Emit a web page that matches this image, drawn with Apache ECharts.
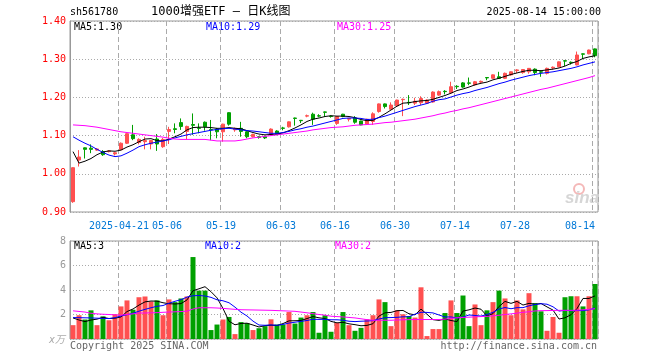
<!DOCTYPE html>
<html><head><meta charset="utf-8">
<script src="https://cdn.jsdelivr.net/npm/echarts@6/dist/echarts.min.js"></script>
<style>html,body{margin:0;padding:0;background:#fff}#c{width:660px;height:360px}</style>
</head><body><div id="c"></div>
<script>
const dates = ['2025-04-09','2025-04-10','2025-04-11','2025-04-14','2025-04-15','2025-04-16','2025-04-17','2025-04-18','2025-04-21','2025-04-22','2025-04-23','2025-04-24','2025-04-25','2025-04-28','2025-04-29','2025-04-30',
'2025-05-06','2025-05-07','2025-05-08','2025-05-09','2025-05-12','2025-05-13','2025-05-14','2025-05-15','2025-05-16','2025-05-19','2025-05-20','2025-05-21','2025-05-22','2025-05-23','2025-05-26','2025-05-27','2025-05-28','2025-05-29','2025-05-30',
'2025-06-03','2025-06-04','2025-06-05','2025-06-06','2025-06-09','2025-06-10','2025-06-11','2025-06-12','2025-06-13','2025-06-16','2025-06-17','2025-06-18','2025-06-19','2025-06-20','2025-06-23','2025-06-24','2025-06-25','2025-06-26','2025-06-27','2025-06-30',
'2025-07-01','2025-07-02','2025-07-03','2025-07-04','2025-07-07','2025-07-08','2025-07-09','2025-07-10','2025-07-11','2025-07-14','2025-07-15','2025-07-16','2025-07-17','2025-07-18','2025-07-21','2025-07-22','2025-07-23','2025-07-24','2025-07-25','2025-07-28','2025-07-29','2025-07-30','2025-07-31',
'2025-08-01','2025-08-04','2025-08-05','2025-08-06','2025-08-07','2025-08-08','2025-08-11','2025-08-12','2025-08-13','2025-08-14'];

const opens = [0.927,1.036,1.068,1.067,1.062,1.058,1.058,1.052,1.063,1.080,
1.102,1.082,1.084,1.078,1.091,1.071,1.111,1.118,1.134,1.111,
1.129,1.120,1.135,1.116,1.117,1.110,1.160,1.115,1.119,1.110,
1.097,1.097,1.097,1.102,1.112,1.120,1.123,1.146,1.140,1.151,
1.156,1.152,1.162,1.151,1.132,1.156,1.143,1.146,1.138,1.130,
1.137,1.163,1.183,1.169,1.178,1.194,1.187,1.185,1.186,1.185,
1.188,1.206,1.216,1.212,1.229,1.238,1.238,1.233,1.240,1.252,
1.250,1.254,1.250,1.259,1.270,1.265,1.267,1.274,1.267,1.263,
1.277,1.280,1.296,1.292,1.285,1.314,1.314,1.327];
const closes = [1.016,1.044,1.064,1.064,1.065,1.050,1.060,1.055,1.080,1.105,
1.092,1.090,1.087,1.087,1.078,1.090,1.116,1.116,1.124,1.124,
1.127,1.119,1.123,1.115,1.110,1.130,1.130,1.119,1.111,1.097,
1.103,1.095,1.094,1.117,1.103,1.119,1.136,1.145,1.139,1.152,
1.143,1.151,1.161,1.150,1.150,1.150,1.145,1.135,1.128,1.143,
1.157,1.183,1.176,1.180,1.193,1.195,1.186,1.190,1.197,1.193,
1.214,1.215,1.215,1.228,1.228,1.227,1.237,1.241,1.242,1.251,
1.259,1.250,1.263,1.267,1.272,1.273,1.276,1.265,1.266,1.276,
1.279,1.293,1.295,1.291,1.311,1.313,1.324,1.309];
const lows = [0.924,1.019,1.040,1.054,1.060,1.047,1.056,1.048,1.062,1.078,
1.088,1.077,1.064,1.064,1.060,1.068,1.078,1.106,1.115,1.090,
1.102,1.106,1.113,1.088,1.093,1.084,1.126,1.110,1.097,1.093,
1.095,1.092,1.091,1.100,1.101,1.114,1.121,1.126,1.133,1.148,
1.128,1.148,1.149,1.147,1.128,1.148,1.137,1.131,1.127,1.128,
1.128,1.160,1.171,1.168,1.176,1.151,1.180,1.180,1.180,1.183,
1.186,1.204,1.208,1.210,1.222,1.225,1.232,1.231,1.237,1.245,
1.249,1.249,1.248,1.257,1.264,1.262,1.262,1.258,1.254,1.260,
1.273,1.279,1.282,1.286,1.284,1.300,1.313,1.305];
const highs = [1.017,1.062,1.069,1.077,1.067,1.062,1.062,1.057,1.082,1.106,
1.128,1.093,1.097,1.088,1.104,1.094,1.123,1.132,1.145,1.126,
1.158,1.132,1.137,1.141,1.120,1.131,1.161,1.121,1.136,1.112,
1.105,1.099,1.100,1.119,1.114,1.123,1.137,1.147,1.141,1.155,
1.160,1.156,1.163,1.153,1.151,1.157,1.146,1.151,1.139,1.144,
1.161,1.184,1.184,1.187,1.194,1.197,1.206,1.199,1.203,1.195,
1.216,1.218,1.219,1.241,1.232,1.240,1.252,1.243,1.244,1.253,
1.260,1.267,1.265,1.268,1.274,1.274,1.277,1.276,1.270,1.278,
1.281,1.294,1.297,1.294,1.320,1.315,1.325,1.328];

const ma5 = [1.058,1.028,1.033,1.040,1.050,1.057,1.060,1.059,1.062,1.070,
1.076,1.084,1.091,1.092,1.087,1.086,1.091,1.097,1.104,1.115,
1.121,1.122,1.122,1.121,1.119,1.119,1.121,1.119,1.118,1.113,
1.108,1.104,1.102,1.103,1.104,1.107,1.113,1.120,1.128,1.137,
1.143,1.146,1.150,1.152,1.151,1.151,1.150,1.147,1.142,1.139,
1.140,1.148,1.157,1.167,1.177,1.185,1.186,1.189,1.191,1.192,
1.195,1.200,1.205,1.211,1.218,1.222,1.227,1.233,1.237,1.240,
1.246,1.250,1.255,1.260,1.264,1.268,1.271,1.271,1.270,1.272,
1.274,1.277,1.282,1.289,1.294,1.302,1.306,1.309];
const ma10 = [1.097,1.088,1.080,1.073,1.064,1.056,1.049,1.045,1.047,1.054,
1.062,1.071,1.076,1.080,1.083,1.086,1.089,1.094,1.098,1.102,
1.105,1.108,1.111,1.114,1.116,1.118,1.119,1.117,1.115,1.113,
1.112,1.110,1.108,1.106,1.106,1.108,1.111,1.115,1.118,1.122,
1.125,1.129,1.133,1.137,1.141,1.145,1.146,1.146,1.145,1.142,
1.143,1.147,1.151,1.156,1.161,1.166,1.171,1.176,1.180,1.184,
1.190,1.194,1.196,1.201,1.206,1.210,1.213,1.218,1.222,1.226,
1.231,1.236,1.240,1.245,1.249,1.253,1.257,1.260,1.263,1.265,
1.267,1.270,1.273,1.276,1.280,1.285,1.289,1.293];
const ma30 = [1.128,1.127,1.126,1.124,1.122,1.119,1.116,1.113,1.110,1.108,
1.106,1.104,1.102,1.100,1.098,1.096,1.093,1.091,1.090,1.090,
1.090,1.090,1.090,1.088,1.086,1.086,1.086,1.086,1.088,1.091,
1.094,1.096,1.098,1.100,1.102,1.104,1.106,1.108,1.110,1.112,
1.115,1.117,1.119,1.121,1.122,1.123,1.125,1.127,1.128,1.129,
1.130,1.132,1.134,1.135,1.137,1.139,1.141,1.143,1.146,1.149,
1.152,1.156,1.159,1.163,1.166,1.170,1.173,1.177,1.181,1.185,
1.189,1.193,1.197,1.201,1.205,1.209,1.213,1.217,1.221,1.224,
1.228,1.232,1.236,1.240,1.244,1.248,1.252,1.257];

const volumes = [1.13,1.94,1.59,2.34,1.13,1.85,1.53,2.02,2.66,3.15,
2.39,3.41,3.47,3.06,3.15,1.94,3.23,3.01,3.31,3.47,
6.69,3.95,3.95,0.73,1.18,1.59,1.80,0.40,1.38,1.29,
0.73,0.88,1.05,1.61,1.18,1.18,2.20,1.26,1.75,1.94,
2.20,0.51,1.94,0.59,1.32,2.20,1.13,0.67,0.91,1.61,
1.94,3.23,3.01,1.05,2.34,2.02,1.88,1.75,4.22,0.24,
0.81,0.81,2.12,3.15,2.12,3.55,1.05,2.82,1.13,2.34,
3.01,3.95,3.31,1.94,3.15,2.42,3.74,2.93,2.26,0.67,
1.80,0.51,3.41,3.49,3.49,2.66,3.49,4.49];
const volMa5 = [1.72,1.55,1.42,1.55,1.62,1.77,1.67,1.70,1.80,2.24,
2.45,2.77,3.03,3.10,3.09,2.96,2.88,2.86,2.89,3.19,
3.94,4.10,4.27,3.86,3.36,2.49,1.45,1.16,1.27,1.29,
1.14,0.98,1.09,1.13,1.10,1.26,1.48,1.49,1.51,1.67,
1.83,1.73,1.67,1.44,1.32,1.36,1.24,1.17,1.08,1.11,
1.25,1.87,2.14,2.17,2.31,2.33,2.06,1.97,2.44,2.02,
1.58,1.52,1.63,1.51,1.42,2.28,2.38,2.53,2.43,1.88,
2.07,2.65,3.07,2.91,3.07,2.77,2.91,2.84,2.90,2.62,
2.36,1.63,1.73,1.98,2.48,3.31,3.31,3.52];
const volMa10 = [1.75,1.74,1.73,1.72,1.70,1.68,1.67,1.74,1.88,1.98,
2.10,2.27,2.42,2.55,2.67,2.73,2.92,3.08,3.21,3.42,
3.53,3.55,3.51,3.40,3.20,3.12,2.96,2.60,2.19,1.88,
1.46,1.14,1.12,1.15,1.12,1.19,1.30,1.37,1.44,1.51,
1.61,1.60,1.61,1.57,1.57,1.53,1.45,1.42,1.45,1.47,
1.50,1.63,1.74,1.75,1.77,1.81,1.82,2.03,2.18,2.17,
2.13,1.96,1.80,1.80,1.72,1.79,1.96,1.92,1.87,2.00,
2.18,2.45,2.57,2.47,2.56,2.56,2.71,2.81,2.88,2.84,
2.63,2.28,2.34,2.31,2.32,2.32,2.38,2.53];
const volMa30 = [2.30,2.25,2.20,2.10,2.05,2.02,2.00,1.97,1.95,2.00,
2.05,2.12,2.12,2.14,2.15,2.18,2.20,2.22,2.24,2.27,
2.45,2.55,2.55,2.55,2.53,2.50,2.46,2.42,2.39,2.38,
2.37,2.36,2.35,2.34,2.32,2.30,2.28,2.26,2.20,2.14,
2.07,2.00,1.95,1.86,1.83,1.80,1.76,1.72,1.65,1.58,
1.53,1.53,1.53,1.53,1.55,1.57,1.58,1.59,1.59,1.59,
1.59,1.59,1.62,1.68,1.73,1.76,1.78,1.81,1.83,1.85,
1.89,1.94,2.00,2.05,2.11,2.18,2.22,2.29,2.31,2.32,
2.33,2.34,2.34,2.34,2.35,2.38,2.42,2.47];

const tickDates = ['2025-04-21','2025-05-06','2025-05-19','2025-06-03','2025-06-16','2025-06-30','2025-07-14','2025-07-28','2025-08-14'];
const priceMALabels = ['MA5:1.30','MA10:1.29','MA30:1.25'];
const volMALabels = ['MA5:3','MA10:2','MA30:2'];
const headerCode = 'sh561780';
const headerTitle = '1000增强ETF — 日K线图';
const headerTime = '2025-08-14 15:00:00';

const UP = '#ff5050', DOWN = '#00a000';
const MONO = "'DejaVu Sans Mono', 'Liberation Mono', monospace";
const CJK = "'DejaVu Sans Mono', 'Noto Sans CJK SC', monospace";
const tickSet = new Set(tickDates);
const lastDate = dates[dates.length - 1];

const splitDash = {show: true, interval: (i, v) => tickSet.has(v), lineStyle: {color: '#aaaaaa', type: [5, 3], width: 1}};

const chart = echarts.init(document.getElementById('c'), null, {renderer: 'canvas'});
const option = {
  animation: false,
  backgroundColor: '#ffffff',
  grid: [
    {left: 70, right: 62, top: 21, height: 191, show: true, borderColor: '#999', borderWidth: 1},
    {left: 70, right: 62, top: 241, height: 98, show: true, borderColor: '#999', borderWidth: 1}
  ],
  xAxis: [
    {type: 'category', gridIndex: 0, data: dates, boundaryGap: true,
     axisLine: {show: false}, axisTick: {show: false},
     axisLabel: {interval: (i, v) => tickSet.has(v), margin: 9,
       formatter: (v) => {
         if (v === tickDates[0]) return '{n|' + v + '}';
         if (v === lastDate) return '{l|' + v.slice(5) + '}';
         return '{n|' + v.slice(5) + '}';
       },
       rich: {
         n: {color: '#0078d7', fontFamily: MONO, fontSize: 10, padding: [0, 4, 0, 0]},
         l: {color: '#0078d7', fontFamily: MONO, fontSize: 10, padding: [0, 30, 0, 0]}
       }},
     splitLine: splitDash},
    {type: 'category', gridIndex: 1, data: dates, boundaryGap: true,
     axisLine: {show: false}, axisTick: {show: false}, axisLabel: {show: false},
     splitLine: splitDash}
  ],
  yAxis: [
    {type: 'value', gridIndex: 0, min: 0.9, max: 1.4, interval: 0.1, scale: true,
     axisLine: {show: true, lineStyle: {color: '#999'}}, axisTick: {show: false},
     axisLabel: {color: '#ff0000', fontFamily: MONO, fontSize: 10, margin: 4, formatter: (v) => v.toFixed(2)},
     splitLine: {show: true, lineStyle: {color: '#aaaaaa', type: [1, 2]}}},
    {type: 'value', gridIndex: 1, min: 0, max: 8, interval: 2,
     axisLine: {show: true, lineStyle: {color: '#999'}}, axisTick: {show: false},
     axisLabel: {color: '#999999', fontFamily: MONO, fontSize: 10, margin: 4, formatter: (v) => v === 0 ? '' : String(v)},
     splitLine: {show: true, lineStyle: {color: '#aaaaaa', type: [1, 2]}}}
  ],
  series: [
    {type: 'candlestick', xAxisIndex: 0, yAxisIndex: 0, barWidth: 4,
     data: dates.map((d, i) => [opens[i], closes[i], lows[i], highs[i]]),
     itemStyle: {color: UP, color0: DOWN, borderColor: UP, borderColor0: DOWN, borderWidth: 1}},
    {type: 'line', xAxisIndex: 0, yAxisIndex: 0, data: ma5, showSymbol: false, lineStyle: {color: '#000000', width: 1}},
    {type: 'line', xAxisIndex: 0, yAxisIndex: 0, data: ma10, showSymbol: false, lineStyle: {color: '#0000ff', width: 1}},
    {type: 'line', xAxisIndex: 0, yAxisIndex: 0, data: ma30, showSymbol: false, lineStyle: {color: '#ff00ff', width: 1}},
    {type: 'bar', xAxisIndex: 1, yAxisIndex: 1, barWidth: 5,
     data: volumes.map((v, i) => ({value: v, itemStyle: {color: closes[i] >= opens[i] ? UP : DOWN}}))},
    {type: 'line', xAxisIndex: 1, yAxisIndex: 1, data: volMa5, showSymbol: false, lineStyle: {color: '#000000', width: 1}},
    {type: 'line', xAxisIndex: 1, yAxisIndex: 1, data: volMa10, showSymbol: false, lineStyle: {color: '#0000ff', width: 1}},
    {type: 'line', xAxisIndex: 1, yAxisIndex: 1, data: volMa30, showSymbol: false, lineStyle: {color: '#ff00ff', width: 1}}
  ],
  graphic: [
    {type: 'text', left: 70, top: 7, style: {text: headerCode, fill: '#000', font: '10px ' + MONO}},
    {type: 'text', left: 151, top: 6, style: {text: headerTitle, fill: '#000', font: '12px ' + CJK}},
    {type: 'text', right: 59, top: 7, style: {text: headerTime, fill: '#000', font: '10px ' + MONO}},
    {type: 'text', left: 74, top: 22, style: {text: priceMALabels[0], fill: '#000000', font: '10px ' + MONO}},
    {type: 'text', left: 206, top: 22, style: {text: priceMALabels[1], fill: '#0000ff', font: '10px ' + MONO}},
    {type: 'text', left: 337, top: 22, style: {text: priceMALabels[2], fill: '#ff00ff', font: '10px ' + MONO}},
    {type: 'text', left: 74, top: 241, style: {text: volMALabels[0], fill: '#000000', font: '10px ' + MONO}},
    {type: 'text', left: 205, top: 241, style: {text: volMALabels[1], fill: '#0000ff', font: '10px ' + MONO}},
    {type: 'text', left: 335, top: 241, style: {text: volMALabels[2], fill: '#ff00ff', font: '10px ' + MONO}},
    {type: 'text', right: 595, top: 335, style: {text: 'x万', fill: '#aaaaaa', font: 'italic 10px ' + CJK}},
    {type: 'text', left: 70, top: 341, style: {text: 'Copyright 2025 SINA.COM', fill: '#666666', font: '10px ' + MONO}},
    {type: 'text', right: 63, top: 341, style: {text: 'http://finance.sina.com.cn', fill: '#666666', font: '10px ' + MONO}},
    {type: 'circle', shape: {cx: 579, cy: 189, r: 5}, style: {fill: 'none', stroke: '#f4b8b8', lineWidth: 2}, z: 0},
    {type: 'text', left: 565, top: 190, style: {text: 'sina', fill: '#d6d6d6', font: 'italic bold 17px Arial, sans-serif'}, z: 0}
  ]
};
chart.setOption(option);
</script>
</body></html>
